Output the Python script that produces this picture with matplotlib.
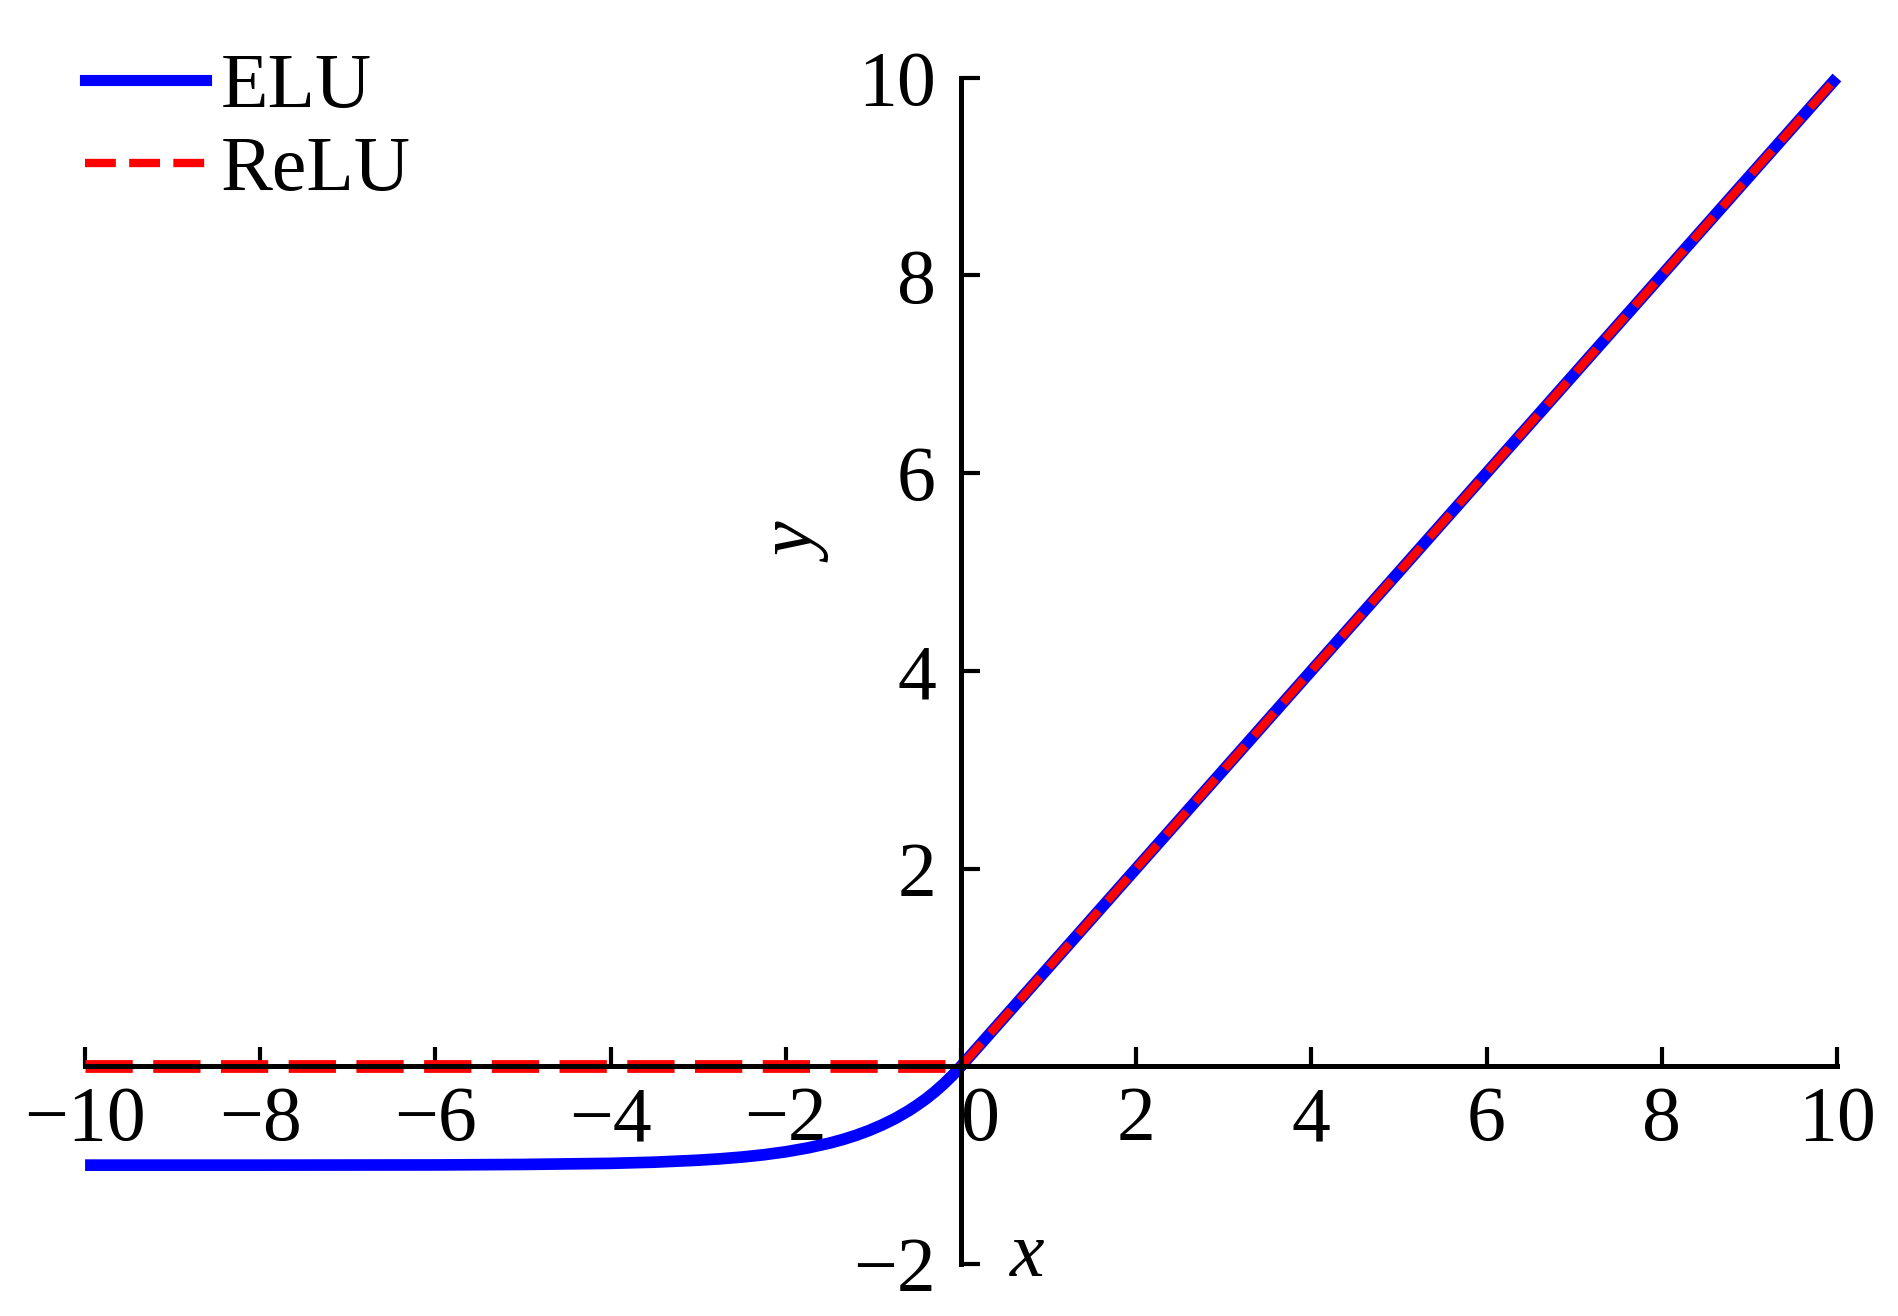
# ELU vs ReLU activation functions
import numpy as np
import matplotlib.pyplot as plt
from matplotlib.lines import Line2D

plt.rcParams['font.family'] = ['Liberation Serif', 'DejaVu Serif']
plt.rcParams['axes.unicode_minus'] = True

# values
elu_x = [-10, -8, -6, -5, -4, -3.5, -3, -2.75, -2.5, -2.25, -2, -1.75, -1.5, -1.35, -1.2,
         -1.05, -0.9, -0.75, -0.6, -0.5, -0.4, -0.3, -0.2, -0.1, 0, 10]
elu_y = [-1.0, -1.0, -0.998, -0.993, -0.982, -0.970, -0.950, -0.936, -0.918, -0.895,
         -0.865, -0.826, -0.777, -0.741, -0.699, -0.650, -0.593, -0.528, -0.451, -0.393,
         -0.330, -0.259, -0.181, -0.095, 0, 10]
relu_x = [-10, 0, 10]
relu_y = [0, 0, 10]
xticks = [-10, -8, -6, -4, -2, 0, 2, 4, 6, 8, 10]
yticks = [-2, 2, 4, 6, 8, 10]

fig = plt.figure(figsize=(9.495, 6.58), dpi=200)
ax = fig.add_axes([0.0448, 0.0395, 0.9225, 0.9016])

ax.plot(elu_x, elu_y, color='#0000ff', lw=4.2, clip_on=False, solid_capstyle='butt')
# the flat part of ReLU is drawn heavier than the rising part in the original
ax.plot(relu_x[:2], relu_y[:2], color='#ff0000', lw=4.6, ls='--', clip_on=False)
ax.plot(relu_x[1:], relu_y[1:], color='#ff0000', lw=3.0, ls='--', clip_on=False)

ax.set_xlim(-10, 10)
ax.set_ylim(-2, 10)

for s in ['top', 'right']:
    ax.spines[s].set_visible(False)
ax.spines['left'].set_position(('data', 0))
ax.spines['bottom'].set_position(('data', 0))
ax.spines['left'].set_bounds(-2, 10)
for s in ['left', 'bottom']:
    ax.spines[s].set_linewidth(1.8)

ax.set_xticks(xticks)
ax.set_yticks(yticks)
ax.tick_params(axis='both', direction='in', length=7, width=1.5, labelsize=28)
ax.tick_params(axis='x', pad=7)
ax.tick_params(axis='y', pad=9)
# the "0" label sits just right of the vertical axis
for lab in ax.get_xticklabels():
    if lab.get_text() in ('0', '$\\mathdefault{0}$'):
        lab.set_horizontalalignment('left')

ax.text(-1.84, 5.27, 'y', fontsize=28, fontstyle='italic', rotation=90,
        ha='center', va='center')
ax.text(0.76, -1.93, 'x', fontsize=28, fontstyle='italic', ha='center', va='center')

handles = [Line2D([], [], color='#0000ff', lw=4.0),
           Line2D([], [], color='#ff0000', lw=3.0, ls='--')]
ax.legend(handles, ['ELU', 'ReLU'], loc='upper left', bbox_to_anchor=(0.0, 1.021),
          frameon=False, fontsize=28, handlelength=1.55, handletextpad=0.2,
          labelspacing=0.145, borderpad=0, borderaxespad=0)

fig.savefig('out.png', dpi=200)
